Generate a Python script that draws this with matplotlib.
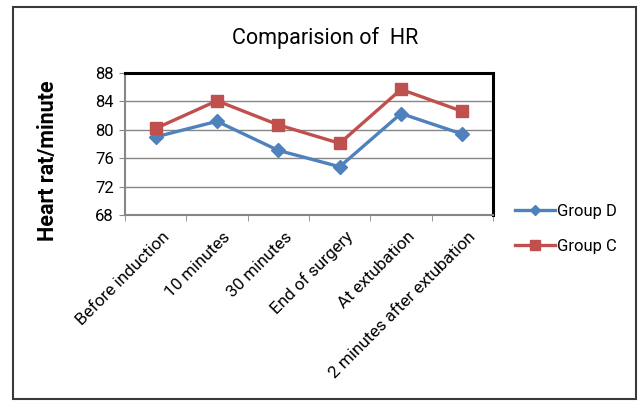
import matplotlib
matplotlib.use('Agg')
import matplotlib.pyplot as plt
import matplotlib.transforms as mtransforms
from matplotlib.patches import Rectangle
import numpy as np

plt.rcParams['font.family'] = ['Roboto', 'DejaVu Sans']

### data ###
categories = ['Before induction', '10 minutes', '30 minutes', 'End of surgery',
              'At extubation', '2 minutes after extubation']
group_d = [79.0, 81.2, 77.1, 74.8, 82.3, 79.4]
group_c = [80.2, 84.1, 80.7, 78.1, 85.7, 82.6]

fig = plt.figure(figsize=(6.39, 4.01), dpi=100)
ax = fig.add_axes([0.1956, 0.4638, 0.576, 0.354])

# outer chart border
fig.patches.append(Rectangle((0.0203, 0.006), 0.9747, 0.9765, transform=fig.transFigure,
                             fill=False, edgecolor='#3a3a3a', linewidth=1.5))

x = np.arange(len(categories))
ax.plot(x, group_d, color='#4F81BD', lw=2.4, marker='D', ms=7, label='Group D')
ax.plot(x, group_c, color='#C0504D', lw=2.4, marker='s', ms=8.5, label='Group C')

ax.set_xlim(-0.5, len(categories) - 0.5)
ax.set_ylim(68, 88)
ax.set_yticks(np.arange(68, 89, 4))
ax.yaxis.grid(True, color='#868686', lw=1)
ax.set_axisbelow(True)

ax.set_xticks(x)
ax.set_xticklabels(categories, rotation=45, ha='right', va='center',
                   rotation_mode='anchor', fontsize=12.3)
ax.tick_params(axis='x', which='major', length=0, pad=14)
shift = mtransforms.ScaledTranslation(8 / 72, 0, fig.dpi_scale_trans)
for lbl in ax.get_xticklabels():
    lbl.set_transform(lbl.get_transform() + shift)
ax.set_xticks(np.arange(-0.5, len(categories)), minor=True)
ax.tick_params(axis='x', which='minor', length=4, color='#868686', direction='out')
ax.tick_params(axis='y', length=4, color='#868686', labelsize=12, pad=4)

for s in ['left', 'bottom']:
    ax.spines[s].set_color('#868686')
    ax.spines[s].set_linewidth(1.5)
for s in ['top', 'right']:
    ax.spines[s].set_color('black')
    ax.spines[s].set_linewidth(2.2)

ax.set_ylabel('Heart rat/minute', fontsize=15.5, fontweight='bold')
ax.yaxis.set_label_coords(-0.178, 0.38)
fig.text(0.509, 0.905, 'Comparision of  HR', ha='center', va='center', fontsize=15.5)

leg = ax.legend(loc='center left', bbox_to_anchor=(1.02, -0.1), frameon=False,
                fontsize=12, handlelength=2.4, labelspacing=1.2, handletextpad=0.1,
                markerscale=0.8)

fig.savefig('out.png', dpi=100)
